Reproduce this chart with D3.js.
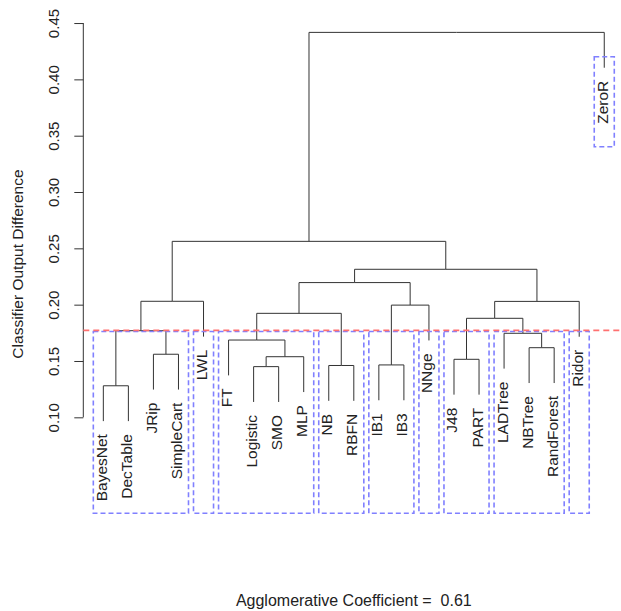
<!DOCTYPE html>
<html>
<head>
<meta charset="utf-8">
<script src="https://cdn.jsdelivr.net/npm/d3@7"></script>
<style>
  body { margin: 0; background: #fff; }
  text { font-family: "Liberation Sans", Arial, sans-serif; fill: #222; white-space: pre; }
</style>
</head>
<body>
<div id="view"></div>
<script>
// leaves in plotted order
var labels = ["BayesNet", "DecTable", "JRip", "SimpleCart", "LWL", "FT", "Logistic",
    "SMO", "MLP", "NB", "RBFN", "IB1", "IB3", "NNge", "J48", "PART", "LADTree",
    "NBTree", "RandForest", "Ridor", "ZeroR"];

// hclust style merges: negative = leaf number, positive = earlier merge
var merges = [[-1, -2], [-7, -8], [-10, -11], [-12, -13], [-15, -16], [2, -9],
    [-3, -4], [-18, -19], [-6, 6], [-17, 8], [1, 7], [5, 10], [9, 3], [4, -14],
    [12, -20], [11, -5], [13, 14], [17, 15], [16, 18], [19, -21]];
var heights = [0.128, 0.145, 0.146, 0.1465, 0.1515, 0.1538, 0.156, 0.1618, 0.1686,
    0.1746, 0.1769, 0.1879, 0.1923, 0.1996, 0.2029, 0.2030, 0.2196, 0.2314,
    0.2562, 0.4417];

// clusters boxed below the cut (first leaf, last leaf)
var groups = [[1, 4], [5, 5], [6, 9], [10, 11], [12, 13], [14, 14], [15, 16], [17, 19], [20, 20]];
var groupTop = 0.1762;
var zeroBox = [21, 0.3402, 0.4201];   // leaf, bottom, top
var cutHeight = 0.1772;

var yTicks = [0.10, 0.15, 0.20, 0.25, 0.30, 0.35, 0.40, 0.45];
var yTitle = "Classifier Output Difference";
var subTitle = "Agglomerative Coefficient =  0.61";

var width = 621, height = 611;

var svg = d3.select("#view").append("svg")
    .attr("width", width)
    .attr("height", height)
    .style("background", "#fff");

var x = d3.scaleLinear()
    .domain([0.2, labels.length + 0.8])
    .range([83.3, 624.3]);

var y = d3.scaleLinear()
    .domain([0.0148, 0.4574])
    .range([513.3, 14.7]);

var hang = 0.1 * (d3.max(heights) - d3.min(heights));

// build a nested tree from the merge list
function build(k) {
    if (k < 0) return {name: labels[-k - 1], leaf: -k};
    var m = merges[k - 1];
    return {h: heights[k - 1], children: [build(m[0]), build(m[1])]};
}

var root = d3.hierarchy(build(merges.length));
// leaves sit on whole numbers, joins at the midpoint of their two children
root.eachAfter(function(d) {
    d.px = d.children ? d3.mean(d.children, function(c) { return c.px; }) : x(d.data.leaf);
});

var g = svg.append("g");

// dendrogram links
g.selectAll("path.link")
    .data(root.descendants().slice(1))
    .enter().append("path")
    .attr("class", "link")
    .attr("fill", "none")
    .attr("stroke", "#333")
    .attr("stroke-width", 1)
    .attr("d", function(d) {
        var bottom = d.children ? d.data.h : d.parent.data.h - hang;
        return "M" + d.px + "," + y(bottom) + "V" + y(d.parent.data.h) + "H" + d.parent.px;
    });

// leaf labels
g.selectAll("text.leaf")
    .data(root.leaves())
    .enter().append("text")
    .attr("class", "leaf")
    .attr("font-size", "15.5px")
    .attr("text-anchor", "end")
    .attr("transform", function(d) {
        return "translate(" + (d.px + 3.5) + "," + (y(d.parent.data.h - hang) + 13) + ") rotate(-90)";
    })
    .text(function(d) { return d.data.name; });

// y axis
var axis = svg.append("g")
    .attr("transform", "translate(" + x.range()[0] + ",0)")
    .call(d3.axisLeft(y).tickValues(yTicks).tickSize(9).tickFormat(d3.format(".2f")));
axis.select(".domain")
    .attr("d", "M0," + y(yTicks[0]) + "V" + y(yTicks[yTicks.length - 1]))
    .attr("stroke", "#333");
axis.selectAll(".tick line").attr("stroke", "#333");
axis.selectAll(".tick text")
    .attr("font-size", "15px")
    .attr("font-family", "Liberation Sans, Arial, sans-serif")
    .attr("fill", "#222")
    .attr("text-anchor", "middle")
    .attr("x", null).attr("dy", null)
    .attr("transform", "translate(-24,0) rotate(-90)");

svg.append("text")
    .attr("font-size", "15.5px")
    .attr("text-anchor", "middle")
    .attr("transform", "translate(22.7," + ((y.range()[0] + y.range()[1]) / 2) + ") rotate(-90)")
    .text(yTitle);

svg.append("text")
    .attr("font-size", "16px")
    .attr("text-anchor", "middle")
    .attr("x", (x.range()[0] + x.range()[1]) / 2)
    .attr("y", 606)
    .text(subTitle);

// cluster boxes
var boxes = svg.append("g")
    .attr("fill", "none")
    .attr("stroke", "#8080ff")
    .attr("stroke-width", 1.6)
    .attr("stroke-dasharray", "5,3");

boxes.selectAll("rect")
    .data(groups)
    .enter().append("rect")
    .attr("x", function(d) { return x(d[0] - 0.4); })
    .attr("width", function(d) { return x(d[1] + 0.4) - x(d[0] - 0.4); })
    .attr("y", y(groupTop))
    .attr("height", y.range()[0] - y(groupTop));

boxes.append("rect")
    .attr("x", x(zeroBox[0] - 0.4))
    .attr("width", x(zeroBox[0] + 0.4) - x(zeroBox[0] - 0.4))
    .attr("y", y(zeroBox[2]))
    .attr("height", y(zeroBox[1]) - y(zeroBox[2]));

// cut line
svg.append("line")
    .attr("x1", x.range()[0])
    .attr("x2", width)
    .attr("y1", y(cutHeight))
    .attr("y2", y(cutHeight))
    .attr("stroke", "#ff7070")
    .attr("stroke-width", 1.6)
    .attr("stroke-dasharray", "6,4");
</script>
</body>
</html>
